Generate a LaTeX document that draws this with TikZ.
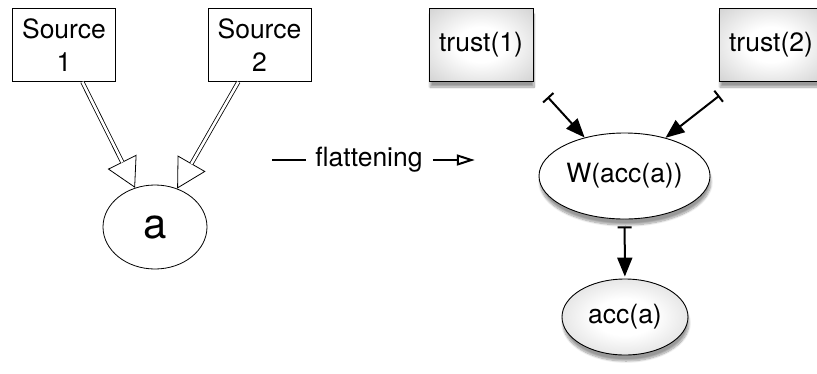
\documentclass[tikz,border=0pt]{standalone}
\usepackage{fontspec}
\setmainfont{TeX Gyre Heros}
\usetikzlibrary{arrows.meta,shapes.geometric,shadows.blur}
\pgfdeclareradialshading{greyglow}{\pgfpoint{0bp}{0bp}}{color(0bp)=(white); color(12bp)=(white); color(50bp)=(black!28); color(72bp)=(black!42)}

\begin{document}
\begin{tikzpicture}[x=1pt,y=-1pt,
    font=\fontsize{26.5}{33}\selectfont,
    srcbox/.style={draw,line width=0.8pt,minimum width=103pt,minimum height=73pt,inner sep=0pt,align=center},
    softshadow/.style={blur shadow={shadow xshift=1pt,shadow yshift=-6pt,shadow blur steps=10,shadow opacity=40}},
    trustbox/.style={draw,line width=0.9pt,minimum width=104pt,minimum height=73pt,inner sep=0pt,shading=greyglow,softshadow},
    dbl/.style={double,double distance=2.6pt,line width=0.8pt},
    openhead/.style={line width=0.8pt,-{Triangle[open,length=29pt,width=32pt]}},
    inhib/.style={line width=2pt,{Bar[width=14pt,line width=2pt]}-{Triangle[length=19pt,width=15pt]}}]
    \useasboundingbox (0,0) rectangle (817,373);

    % before flattening
    \node[srcbox] (s1) at (64,45) {Source\\1};
    \node[srcbox] (s2) at (259.5,45) {Source\\2};
    \node[ellipse,draw,line width=0.8pt,minimum width=104pt,minimum height=84pt,inner sep=0pt,
          font=\fontsize{42}{44}\selectfont] (a) at (155,227) {a};
    % heads first, shafts on top
    \path (s1) -- (a.117) coordinate[pos=0.75] (h1);
    \path (s2) -- (a.60) coordinate[pos=0.76] (h2);
    \draw[openhead] (h1) -- (a.117);
    \draw[openhead] (h2) -- (a.60);
    \draw[dbl, shorten >=28.5pt] (s1) -- (a.117);
    \draw[dbl, shorten >=28.5pt] (s2) -- (a.60);

    % the step in between
    \node[inner sep=0pt] (fl) at (369,160) {flattening};
    \draw[line width=2pt] ([xshift=-43pt]fl.west) -- ([xshift=-9pt]fl.west);
    \draw[line width=2pt,-{Triangle[open,length=18pt,width=11pt,line width=2pt]}]
        ([xshift=10pt]fl.east) -- ([xshift=52pt]fl.east);

    % after flattening
    \node[trustbox] (tr1) at (481,44.5) {trust(1)};
    \node[trustbox] (tr2) at (771,44.5) {trust(2)};
    \node[ellipse,draw,line width=0.9pt,fill=white,minimum width=171pt,minimum height=86pt,inner sep=0pt,softshadow]
        (w) at (624.5,176) {W(acc(a))};
    \node[ellipse,draw,line width=0.9pt,shading=greyglow,minimum width=126pt,minimum height=76pt,inner sep=0pt,softshadow]
        (acc) at (625,317) {acc(a)};
    % weighted links
    \draw[inhib, shorten <=21pt] (tr1.south east) -- (w.136);
    \draw[inhib, shorten <=23pt] ([xshift=19pt]tr2.south west) -- (w.43);
    \draw[inhib, shorten <=7pt, shorten >=2pt] (w) -- (acc);
\end{tikzpicture}
\end{document}
